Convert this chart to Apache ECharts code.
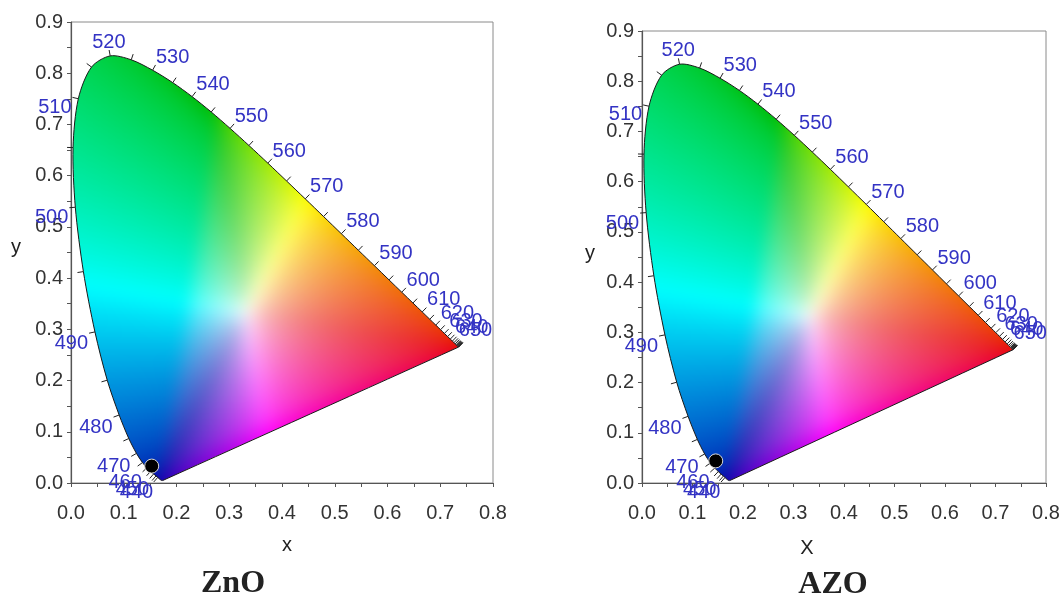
<!DOCTYPE html>
<html>
<head>
<meta charset="utf-8">
<script src="https://cdn.jsdelivr.net/npm/echarts@6/dist/echarts.min.js"></script>
<style>
  html, body { margin: 0; padding: 0; background: #ffffff; }
  #chart { width: 1063px; height: 596px; }
</style>
</head>
<body>
<div id="chart"></div>
<script>
// CIE 1931 2° spectral locus, 5 nm steps
const wavelengths = [380,385,390,395,400,405,410,415,420,425,430,435,440,445,450,455,460,465,470,475,
  480,485,490,495,500,505,510,515,520,525,530,535,540,545,550,555,560,565,570,575,
  580,585,590,595,600,605,610,615,620,625,630,635,640,645,650,655,660,665,670,675,
  680,685,690,695,700];
const locusX = [0.1741,0.1740,0.1738,0.1736,0.1733,0.1730,0.1726,0.1721,0.1714,0.1703,0.1689,0.1669,0.1644,0.1611,0.1566,0.1510,0.1440,0.1355,0.1241,0.1096,
  0.0913,0.0687,0.0454,0.0235,0.0082,0.0039,0.0139,0.0389,0.0743,0.1142,0.1547,0.1929,0.2296,0.2658,0.3016,0.3373,0.3731,0.4087,0.4441,0.4788,
  0.5125,0.5448,0.5752,0.6029,0.6270,0.6482,0.6658,0.6801,0.6915,0.7006,0.7079,0.7140,0.7190,0.7230,0.7260,0.7283,0.7300,0.7311,0.7320,0.7327,
  0.7334,0.7340,0.7344,0.7346,0.7347];
const locusY = [0.0050,0.0050,0.0049,0.0049,0.0048,0.0048,0.0048,0.0048,0.0051,0.0058,0.0069,0.0086,0.0109,0.0138,0.0177,0.0227,0.0297,0.0399,0.0578,0.0868,
  0.1327,0.2007,0.2950,0.4127,0.5384,0.6548,0.7502,0.8120,0.8338,0.8262,0.8059,0.7816,0.7543,0.7243,0.6923,0.6589,0.6245,0.5896,0.5547,0.5202,
  0.4866,0.4544,0.4242,0.3965,0.3725,0.3514,0.3340,0.3197,0.3083,0.2993,0.2920,0.2859,0.2809,0.2770,0.2740,0.2717,0.2700,0.2689,0.2680,0.2673,
  0.2666,0.2660,0.2656,0.2654,0.2653];

// Wavelength marks on the locus
const tickedWavelengths = [440,445,450,455,460,465,470,475,480,485,490,495,500,505,510,515,520,525,530,535,
  540,545,550,555,560,565,570,575,580,585,590,595,600,605,610,615,620,625,630,635,
  640,645,650,655,660,665,670,675,680,685,690,695,700];
const labelledWavelengths = [440,450,460,470,480,490,500,510,520,530,540,550,560,570,580,590,600,610,620,630,640,650];

// Axis ticks
const xTickValues = [0.0,0.1,0.2,0.3,0.4,0.5,0.6,0.7,0.8];
const yTickValues = [0.0,0.1,0.2,0.3,0.4,0.5,0.6,0.7,0.8,0.9];

// Samples: chromaticity of each film
const panelTitles = ['ZnO', 'AZO'];
const xAxisNames = ['x', 'X'];
const sampleX = [0.153, 0.146];
const sampleY = [0.033, 0.044];

const X_MIN = xTickValues[0], X_MAX = xTickValues[xTickValues.length - 1];
const Y_MIN = yTickValues[0], Y_MAX = yTickValues[yTickValues.length - 1];

// Separable box blur on one channel plane
function boxBlur(src, w, h, r) {
  const tmp = new Float32Array(w * h), out = new Float32Array(w * h);
  for (let j = 0; j < h; j++) {
    for (let i = 0; i < w; i++) {
      let s = 0, c = 0;
      for (let d = -r; d <= r; d++) {
        const ii = Math.min(w - 1, Math.max(0, i + d));
        s += src[j * w + ii]; c++;
      }
      tmp[j * w + i] = s / c;
    }
  }
  for (let i = 0; i < w; i++) {
    for (let j = 0; j < h; j++) {
      let s = 0, c = 0;
      for (let d = -r; d <= r; d++) {
        const jj = Math.min(h - 1, Math.max(0, j + d));
        s += tmp[jj * w + i]; c++;
      }
      out[j * w + i] = s / c;
    }
  }
  return out;
}

// Raster of xy -> display colour over the whole axis range (CIE RGB primaries, white E)
function buildGamutImage(w, h) {
  const c = document.createElement('canvas');
  c.width = w; c.height = h;
  const ctx = c.getContext('2d');
  const img = ctx.createImageData(w, h);
  const enc = v => Math.pow(v, 1 / 2.2);
  let R = new Float32Array(w * h), G = new Float32Array(w * h), B = new Float32Array(w * h);
  for (let j = 0; j < h; j++) {
    const y = Y_MAX - (Y_MAX - Y_MIN) * (j + 0.5) / h;
    for (let i = 0; i < w; i++) {
      const x = X_MIN + (X_MAX - X_MIN) * (i + 0.5) / w;
      const X = x / y, Y = 1, Z = (1 - x - y) / y;
      let r = 2.3646 * X - 0.8965 * Y - 0.4681 * Z;
      let g = -0.5152 * X + 1.4264 * Y + 0.0888 * Z;
      let b = 0.0052 * X - 0.0144 * Y + 1.0092 * Z;
      r = Math.max(r, 0); g = Math.max(g, 0); b = Math.max(b, 0);
      const m = Math.max(r, g, b, 1e-9);
      let er = enc(r / m), eg = enc(g / m), eb = enc(b / m);
      // stronger saturation away from the white point
      const s = 1 - Math.min(er, eg, eb);
      if (s > 1e-6) {
        const kS = Math.pow(s, 0.72) / s;
        er = 1 - (1 - er) * kS; eg = 1 - (1 - eg) * kS; eb = 1 - (1 - eb) * kS;
      }
      // deepen the saturated primaries
      const pr = Math.max(0, er - Math.max(eg, eb));
      const pg = Math.max(0, eg - Math.max(er, eb));
      const pb = Math.max(0, eb - Math.max(er, eg));
      const f = 1 - 0.1 * pr - 0.27 * pg - 0.38 * pb;
      const k = j * w + i;
      R[k] = er * f; G[k] = eg * f; B[k] = eb * f;
    }
  }
  // soften the transitions between colour regions
  for (let pass = 0; pass < 2; pass++) {
    R = boxBlur(R, w, h, 9); G = boxBlur(G, w, h, 9); B = boxBlur(B, w, h, 9);
  }
  for (let k = 0; k < w * h; k++) {
    img.data[k * 4] = Math.round(255 * R[k]);
    img.data[k * 4 + 1] = Math.round(255 * G[k]);
    img.data[k * 4 + 2] = Math.round(255 * B[k]);
    img.data[k * 4 + 3] = 255;
  }
  ctx.putImageData(img, 0, 0);
  return c;
}
const gamutImage = buildGamutImage(480, 540);

function renderGamut(params, api) {
  const tl = api.coord([X_MIN, Y_MAX]);
  const br = api.coord([X_MAX, Y_MIN]);
  const pts = wavelengths.map((w, i) => api.coord([locusX[i], locusY[i]]));
  return {
    type: 'group',
    children: [
      {
        type: 'image',
        style: { image: gamutImage, x: tl[0], y: tl[1], width: br[0] - tl[0], height: br[1] - tl[1] },
        clipPath: { type: 'polygon', shape: { points: pts, smooth: 0.3 } }
      },
      {
        type: 'polygon',
        shape: { points: pts, smooth: 0.3 },
        style: { fill: null, stroke: '#1a1a1a', lineWidth: 1 }
      }
    ]
  };
}

function renderMarks(params, api) {
  const wl = api.value(2);
  const i = wavelengths.indexOf(wl);
  const n = wavelengths.length;
  const p = api.coord([locusX[i], locusY[i]]);
  let a = Math.max(i - 1, 0), b = Math.min(i + 1, n - 1);
  let pa = api.coord([locusX[a], locusY[a]]), pb = api.coord([locusX[b], locusY[b]]);
  let dx = pb[0] - pa[0], dy = pb[1] - pa[1];
  while (Math.hypot(dx, dy) < 4 && (a > 0 || b < n - 1)) {
    a = Math.max(a - 1, 0); b = Math.min(b + 1, n - 1);
    pa = api.coord([locusX[a], locusY[a]]); pb = api.coord([locusX[b], locusY[b]]);
    dx = pb[0] - pa[0]; dy = pb[1] - pa[1];
  }
  const L = Math.hypot(dx, dy) || 1;
  const nx = dy / L, ny = -dx / L;
  const children = [{
    type: 'line',
    shape: { x1: p[0], y1: p[1], x2: p[0] + nx * 6, y2: p[1] + ny * 6 },
    style: { stroke: '#222', lineWidth: 1 }
  }];
  if (labelledWavelengths.indexOf(wl) >= 0) {
    let align, vAlign;
    if (nx > 0.35) { align = 'left'; vAlign = 'bottom'; }
    else if (nx < -0.35) { align = 'right'; vAlign = 'top'; }
    else { align = 'center'; vAlign = ny < 0 ? 'bottom' : 'top'; }
    const drop = vAlign === 'bottom' ? 3 : 0;
    children.push({
      type: 'text',
      x: p[0] + nx * 7,
      y: p[1] + ny * 7 + drop,
      style: {
        text: String(wl),
        fill: '#3333c4',
        font: '20px "Liberation Sans", Arial, sans-serif',
        align: align, verticalAlign: vAlign,
        textAlign: align, textVerticalAlign: vAlign
      }
    });
  }
  return { type: 'group', children: children };
}

const markData = tickedWavelengths.map(w => {
  const i = wavelengths.indexOf(w);
  return [locusX[i], locusY[i], w];
});

const axisFont = { fontFamily: '"Liberation Sans", Arial, sans-serif', fontSize: 20, color: '#333' };

const grids = [
  { left: 71, top: 22, width: 422, height: 461 },
  { left: 642, top: 31, width: 404, height: 452 }
];

function xAxisFor(k) {
  return {
    type: 'value', gridIndex: k, min: X_MIN, max: X_MAX, interval: 0.1,
    axisLine: { show: true, lineStyle: { color: '#555', width: 1.2 } },
    axisTick: { show: true, length: 4, lineStyle: { color: '#555' } },
    minorTick: { show: true, splitNumber: 2, length: 4, lineStyle: { color: '#555' } },
    axisLabel: Object.assign({ margin: 20, formatter: v => v.toFixed(1) }, axisFont),
    splitLine: { show: false }
  };
}
function yAxisFor(k) {
  return {
    type: 'value', gridIndex: k, min: Y_MIN, max: Y_MAX, interval: 0.1,
    axisLine: { show: true, lineStyle: { color: '#555', width: 1.2 } },
    axisTick: { show: true, length: 4, lineStyle: { color: '#555' } },
    minorTick: { show: true, splitNumber: 2, length: 4, lineStyle: { color: '#555' } },
    axisLabel: Object.assign({ margin: 8, formatter: v => v.toFixed(1) }, axisFont),
    splitLine: { show: false }
  };
}

const series = [];
[0, 1].forEach(k => {
  series.push({
    type: 'custom', xAxisIndex: k, yAxisIndex: k, clip: false, silent: true,
    data: [[X_MIN, Y_MIN]], renderItem: renderGamut, z: 1
  });
  series.push({
    type: 'custom', xAxisIndex: k, yAxisIndex: k, clip: false, silent: true,
    data: markData, renderItem: renderMarks, z: 2
  });
  series.push({
    type: 'scatter', xAxisIndex: k, yAxisIndex: k, z: 3,
    data: [[sampleX[k], sampleY[k]]],
    symbolSize: 14,
    itemStyle: { color: '#000', borderColor: '#d8d8d8', borderWidth: 1, opacity: 1 }
  });
});

const textStyle = (txt, x, y, font) => ({
  type: 'text', x: x, y: y,
  style: { text: txt, font: font, fill: '#222', align: 'center', verticalAlign: 'middle',
           textAlign: 'center', textVerticalAlign: 'middle' }
});
const nameFont = '20px "Liberation Sans", Arial, sans-serif';
const titleFont = 'bold 32px "Liberation Serif", "Times New Roman", serif';

const chart = echarts.init(document.getElementById('chart'), null, { renderer: 'canvas' });
chart.setOption({
  animation: false,
  backgroundColor: '#ffffff',
  grid: grids.map(g => Object.assign({ show: true, borderColor: '#8a8a8a', borderWidth: 1, backgroundColor: 'transparent' }, g)),
  xAxis: [xAxisFor(0), xAxisFor(1)],
  yAxis: [yAxisFor(0), yAxisFor(1)],
  series: series,
  graphic: [
    textStyle('y', 16, 247, nameFont),
    textStyle(xAxisNames[0], 287, 545, nameFont),
    textStyle('y', 590, 253, nameFont),
    textStyle(xAxisNames[1], 807, 548, nameFont),
    textStyle(panelTitles[0], 233, 584, titleFont),
    textStyle(panelTitles[1], 833, 585, titleFont)
  ]
});
</script>
</body>
</html>
